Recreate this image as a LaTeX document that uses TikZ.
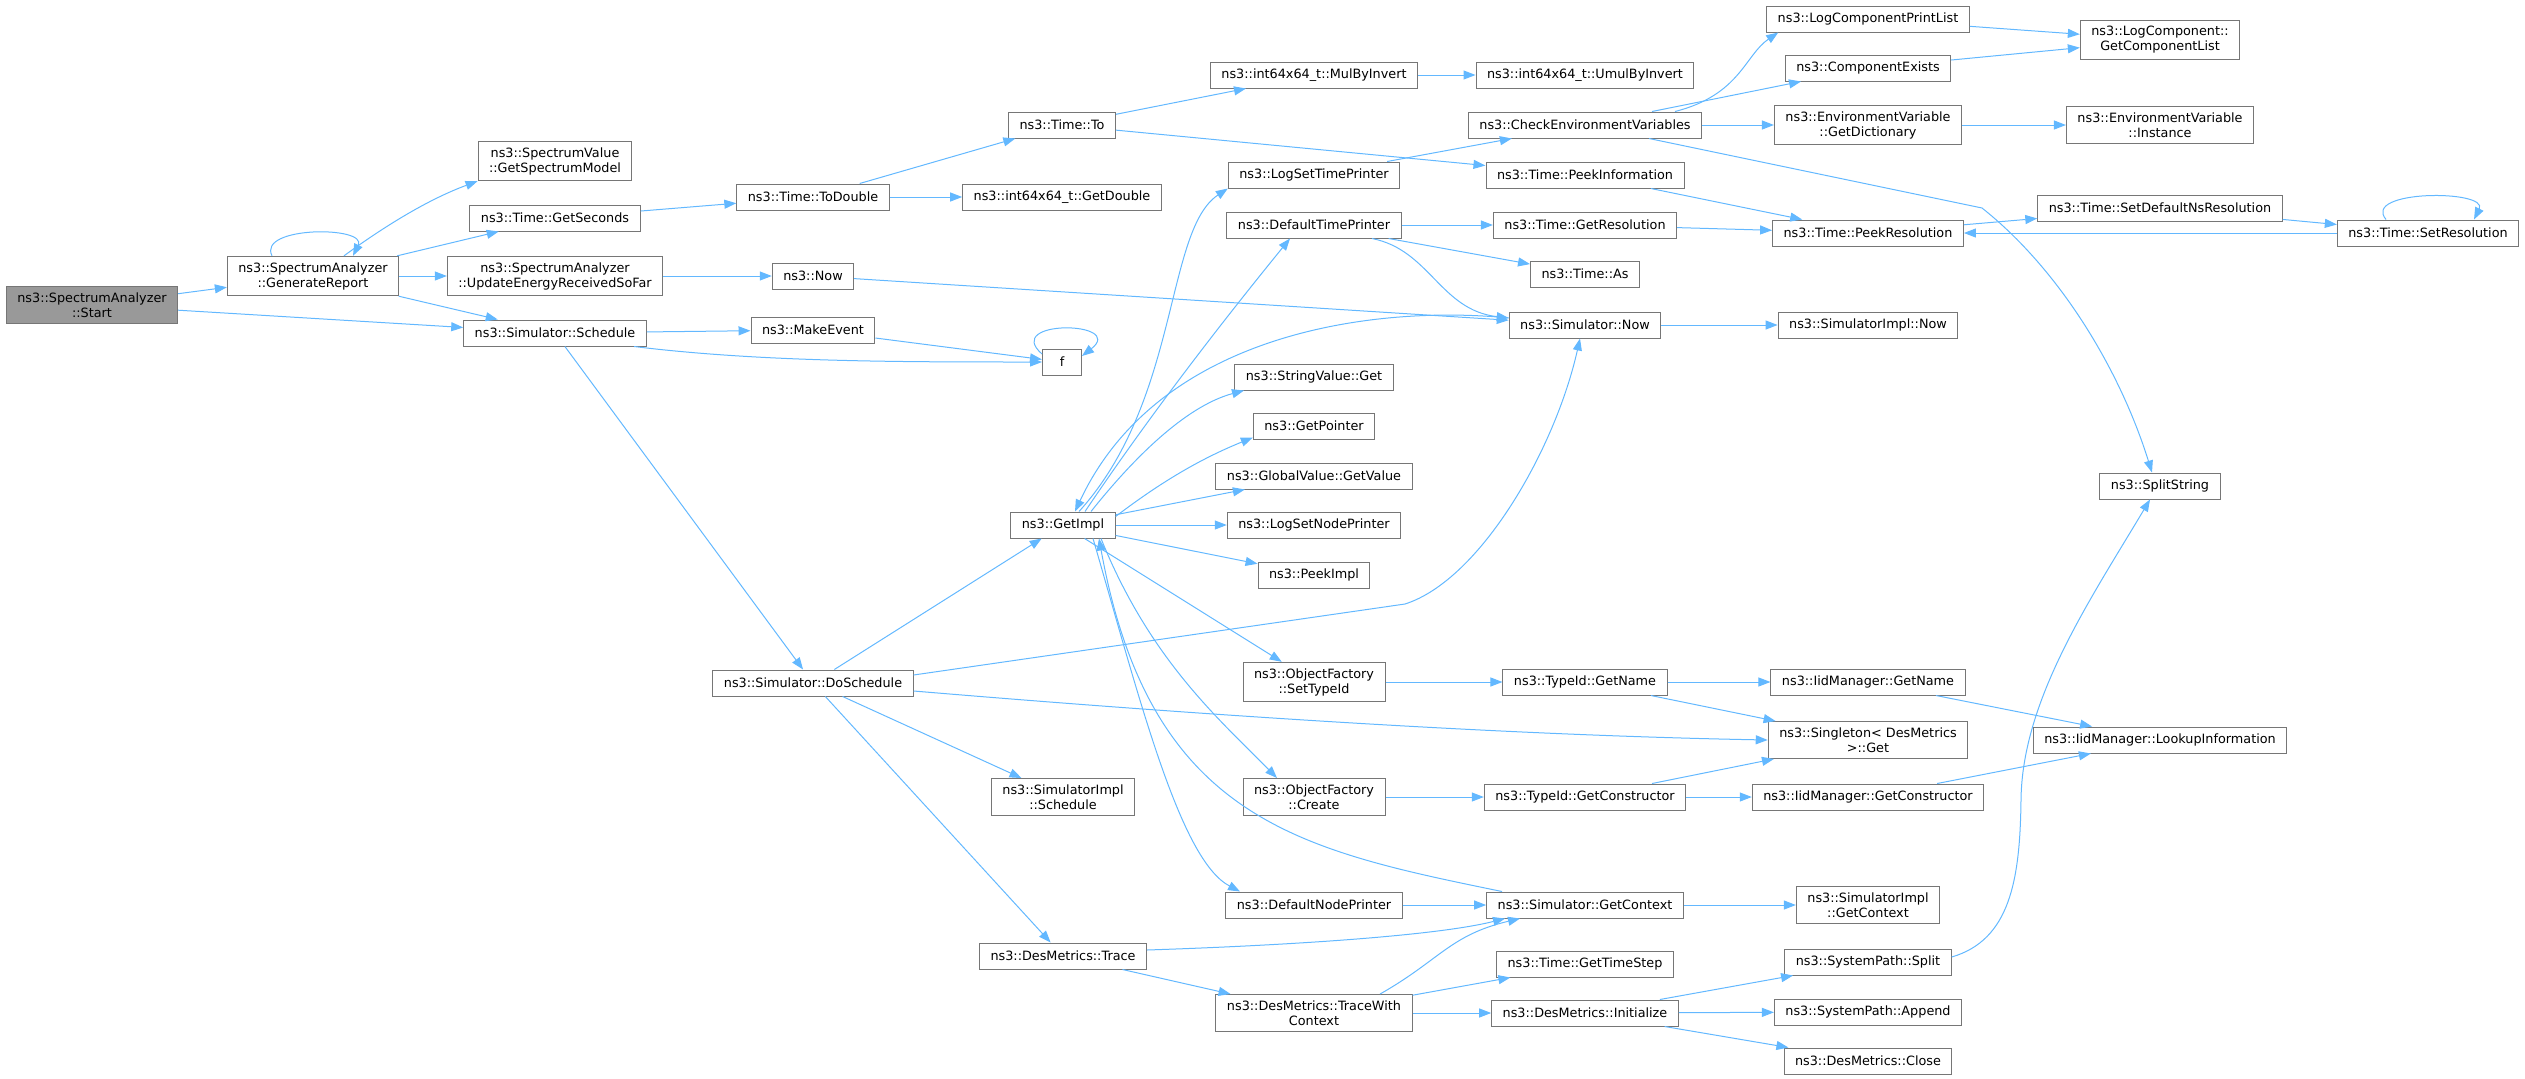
\documentclass[tikz,border=0pt]{standalone}
\usepackage{fontspec}
\setmainfont{DejaVu Sans}
\usepackage{tikz}
\usetikzlibrary{arrows.meta}

\definecolor{edgeblue}{HTML}{63B8FF}
\definecolor{nodeborder}{HTML}{767676}
\definecolor{rootfill}{HTML}{999999}

\begin{document}
\begin{tikzpicture}[
            x=1pt, y=-1pt,
            every node/.style={rectangle, draw=nodeborder, line width=1pt, fill=white, align=center,
                               font=\fontsize{12.8}{15}\selectfont, inner xsep=11pt, inner ysep=6pt,
                               minimum height=26pt}, % Boxes for functions
            root/.style={fill=rootfill}, % The function the graph starts from
            calls/.style={draw=edgeblue, line width=1pt, -{Triangle[length=12pt,width=9pt]}} % Call arrows
            ]
    \useasboundingbox (0,0) rectangle (2525,1079);

    % Columns from left to right
    \node[root] (start) at (92,305) {ns3::SpectrumAnalyzer\\::Start};
    \node (genrep) at (313,276) {ns3::SpectrumAnalyzer\\::GenerateReport};

    \node (getspec) at (555,161) {ns3::SpectrumValue\\::GetSpectrumModel};
    \node (getsec) at (555,218) {ns3::Time::GetSeconds};
    \node (updenergy) at (555,276) {ns3::SpectrumAnalyzer\\::UpdateEnergyReceivedSoFar};
    \node (sched) at (555,333) {ns3::Simulator::Schedule};

    \node (todouble) at (813,197) {ns3::Time::ToDouble};
    \node (now) at (813,276) {ns3::Now};
    \node (makeevent) at (813,330) {ns3::MakeEvent};
    \node (dosched) at (813,683) {ns3::Simulator::DoSchedule};

    \node (timeto) at (1062,125) {ns3::Time::To};
    \node (getdouble) at (1062,197) {ns3::int64x64\_t::GetDouble};
    \node[minimum width=39pt] (f) at (1062,362) {f};
    \node (getimpl) at (1063,525) {ns3::GetImpl};
    \node (simschedule) at (1063,797) {ns3::SimulatorImpl\\::Schedule};
    \node (trace) at (1063,956) {ns3::DesMetrics::Trace};

    \node (mulby) at (1314,75) {ns3::int64x64\_t::MulByInvert};
    \node (logsettime) at (1314,175) {ns3::LogSetTimePrinter};
    \node (deftime) at (1314,225) {ns3::DefaultTimePrinter};
    \node (strget) at (1314,377) {ns3::StringValue::Get};
    \node (getptr) at (1314,426) {ns3::GetPointer};
    \node (globget) at (1314,476) {ns3::GlobalValue::GetValue};
    \node (logsetnode) at (1314,525) {ns3::LogSetNodePrinter};
    \node (peekimpl) at (1314,575) {ns3::PeekImpl};
    \node (settypeid) at (1314,682) {ns3::ObjectFactory\\::SetTypeId};
    \node (create) at (1314,797) {ns3::ObjectFactory\\::Create};
    \node (defnode) at (1314,905) {ns3::DefaultNodePrinter};
    \node (tracectx) at (1314,1013) {ns3::DesMetrics::TraceWith\\Context};

    \node (umulby) at (1585,75) {ns3::int64x64\_t::UmulByInvert};
    \node (checkenv) at (1585,125) {ns3::CheckEnvironmentVariables};
    \node (peekinfo) at (1585,175) {ns3::Time::PeekInformation};
    \node (getres) at (1585,225) {ns3::Time::GetResolution};
    \node (timeas) at (1585,274) {ns3::Time::As};
    \node (simnow) at (1585,325) {ns3::Simulator::Now};
    \node (tidname) at (1585,682) {ns3::TypeId::GetName};
    \node (tidctor) at (1585,797) {ns3::TypeId::GetConstructor};
    \node (simctx) at (1585,905) {ns3::Simulator::GetContext};
    \node (timestep) at (1585,964) {ns3::Time::GetTimeStep};
    \node (init) at (1585,1013) {ns3::DesMetrics::Initialize};

    \node (logprint) at (1868,19) {ns3::LogComponentPrintList};
    \node (compexists) at (1868,68) {ns3::ComponentExists};
    \node (getdict) at (1868,125) {ns3::EnvironmentVariable\\::GetDictionary};
    \node (peekres) at (1868,233) {ns3::Time::PeekResolution};
    \node (implnow) at (1868,325) {ns3::SimulatorImpl::Now};
    \node (iidname) at (1868,682) {ns3::IidManager::GetName};
    \node (singleton) at (1868,740) {ns3::Singleton< DesMetrics\\ >::Get};
    \node (iidctor) at (1868,797) {ns3::IidManager::GetConstructor};
    \node (implctx) at (1868,905) {ns3::SimulatorImpl\\::GetContext};
    \node (split) at (1868,962) {ns3::SystemPath::Split};
    \node (append) at (1868,1012) {ns3::SystemPath::Append};
    \node (close) at (1868,1061) {ns3::DesMetrics::Close};

    \node (complist) at (2160,40) {ns3::LogComponent::\\GetComponentList};
    \node (instance) at (2160,125) {ns3::EnvironmentVariable\\::Instance};
    \node (setdefres) at (2160,208) {ns3::Time::SetDefaultNsResolution};
    \node (splitstr) at (2160,486) {ns3::SplitString};
    \node (lookup) at (2160,740) {ns3::IidManager::LookupInformation};

    \node (setres) at (2428,233) {ns3::Time::SetResolution};

    % Calls
    \draw[calls] (start) -- (genrep);
    \draw[calls] (start) -- (sched);
    \draw[calls] ([xshift=-41pt]genrep.north) .. controls +(-15,-30) and +(15,-30) .. ([xshift=40pt]genrep.north);
    \draw[calls] ([xshift=31pt]genrep.north) .. controls (400,215) and (440,195) .. (getspec.south west);
    \draw[calls] (genrep) -- (getsec);
    \draw[calls] (genrep) -- (updenergy);
    \draw[calls] (genrep) -- (sched);

    \draw[calls] (getsec) -- (todouble);
    \draw[calls] (updenergy) -- (now);
    \draw[calls] (sched) -- (makeevent);
    \draw[calls] ([xshift=79pt]sched.south) .. controls (760,362) and (900,362) .. (f.west);
    \draw[calls] (sched) -- (dosched);

    \draw[calls] (todouble) -- (timeto);
    \draw[calls] (todouble) -- (getdouble);
    \draw[calls] (timeto) -- (mulby);
    \draw[calls] (timeto) -- (peekinfo);
    \draw[calls] (mulby) -- (umulby);
    \draw[calls] (now) -- (simnow);
    \draw[calls] (makeevent) -- (f);
    \draw[calls] ([yshift=8pt]f.west) .. controls +(-40,-35) and +(45,-35) .. ([yshift=6pt]f.east);

    \draw[calls] (dosched) -- (getimpl);
    \draw[calls] ([yshift=8pt]dosched.east) -- (1405,604) .. controls (1480,580) and (1555,450) .. ([xshift=-5pt]simnow.south);
    \draw[calls] ([yshift=-8pt]dosched.east) .. controls (1200,715) and (1500,735) .. (singleton.west);
    \draw[calls] (dosched) -- (simschedule);
    \draw[calls] (dosched) -- (trace);

    \draw[calls] ([xshift=16pt]getimpl.north) .. controls (1180,400) and (1165,230) .. (logsettime.south west);
    \draw[calls] ([xshift=22pt]getimpl.north) .. controls (1160,400) and (1240,300) .. ([xshift=-24pt]deftime.south);
    \draw[calls] ([xshift=28pt]getimpl.north) .. controls (1140,450) and (1190,405) .. ([xshift=-70pt]strget.south);
    \draw[calls] ([yshift=-5pt]getimpl.north east) .. controls (1170,475) and (1210,455) .. ([yshift=2pt]getptr.south west);
    \draw[calls] (getimpl) -- (globget);
    \draw[calls] (getimpl) -- (logsetnode);
    \draw[calls] (getimpl) -- (peekimpl);
    \draw[calls] (getimpl) -- (settypeid);
    \draw[calls] ([xshift=38pt]getimpl.south) .. controls (1150,660) and (1220,720) .. ([xshift=-37pt]create.north);
    \draw[calls] ([xshift=30pt]getimpl.south) .. controls (1140,700) and (1180,860) .. ([xshift=-74pt]defnode.north);

    \draw[calls] (logsettime) -- (checkenv);
    \draw[calls] (deftime) -- (getres);
    \draw[calls] (deftime) -- (timeas);
    \draw[calls] ([xshift=58pt]deftime.south) .. controls (1430,250) and (1440,310) .. ([yshift=7pt]simnow.west);
    \draw[calls] ([yshift=7pt]simnow.west) .. controls (1380,305) and (1160,330) .. ([xshift=12pt]getimpl.north);
    \draw[calls] (simnow) -- (implnow);

    \draw[calls] ([xshift=90pt]checkenv.north) .. controls (1740,95) and (1745,55) .. ([xshift=12pt]logprint.south west);
    \draw[calls] (checkenv) -- (compexists);
    \draw[calls] (checkenv) -- (getdict);
    \draw[calls] ([xshift=64pt]checkenv.south) -- (1982,208) .. controls (2060,270) and (2120,370) .. ([xshift=-8pt]splitstr.north);
    \draw[calls] (logprint) -- (complist);
    \draw[calls] (compexists) -- (complist);
    \draw[calls] (getdict) -- (instance);

    \draw[calls] (peekinfo) -- (peekres);
    \draw[calls] (getres) -- (peekres);
    \draw[calls] (peekres) -- (setdefres);
    \draw[calls] (setdefres) -- (setres);
    \draw[calls] (setres) -- (peekres);
    \draw[calls] ([xshift=-42pt]setres.north) .. controls +(-25,-30) and +(15,-30) .. ([xshift=46pt]setres.north);

    \draw[calls] (settypeid) -- (tidname);
    \draw[calls] (tidname) -- (iidname);
    \draw[calls] (tidname) -- (singleton);
    \draw[calls] (iidname) -- (lookup);
    \draw[calls] (create) -- (tidctor);
    \draw[calls] (tidctor) -- (singleton);
    \draw[calls] (tidctor) -- (iidctor);
    \draw[calls] (iidctor) -- (lookup);

    \draw[calls] (defnode) -- (simctx);
    \draw[calls] (simctx) -- (implctx);
    \draw[calls] ([xshift=-83pt]simctx.north) .. controls (1300,850) and (1150,820) .. ([xshift=36pt]getimpl.south);
    \draw[calls] ([yshift=6pt]trace.east) .. controls (1300,945) and (1440,935) .. ([xshift=-80pt]simctx.south);
    \draw[calls] (trace) -- (tracectx);
    \draw[calls] ([xshift=66pt]tracectx.north) .. controls (1440,960) and (1450,935) .. ([xshift=-65pt]simctx.south);
    \draw[calls] (tracectx) -- (timestep);
    \draw[calls] (tracectx) -- (init);
    \draw[calls] (init) -- (split);
    \draw[calls] (init) -- (append);
    \draw[calls] (init) -- (close);
    \draw[calls] ([yshift=5pt]split.east) .. controls (2010,940) and (2020,880) .. (2021,800) .. controls (2022,700) and (2090,600) .. ([xshift=-10pt]splitstr.south);

\end{tikzpicture}
\end{document}
